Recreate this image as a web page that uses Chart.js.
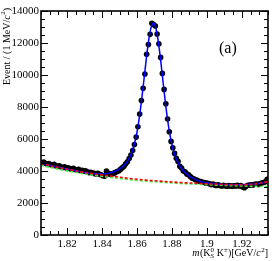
<!DOCTYPE html>
<html><head><meta charset="utf-8">
<script src="https://cdn.jsdelivr.net/npm/chart.js@4/dist/chart.umd.min.js"></script>
<style>html,body{margin:0;padding:0;background:#fff;}canvas{display:block;}</style>
</head><body>
<canvas id="c" width="274" height="261"></canvas>
<script>
// ---- data ----
const massBins = [
1.8055,1.8065,1.8075,1.8085,1.8095,1.8105,1.8115,1.8125,1.8135,1.8145,
1.8155,1.8165,1.8175,1.8185,1.8195,1.8205,1.8215,1.8225,1.8235,1.8245,
1.8255,1.8265,1.8275,1.8285,1.8295,1.8305,1.8315,1.8325,1.8335,1.8345,
1.8355,1.8365,1.8375,1.8385,1.8395,1.8405,1.8415,1.8425,1.8435,1.8445,
1.8455,1.8465,1.8475,1.8485,1.8495,1.8505,1.8515,1.8525,1.8535,1.8545,
1.8555,1.8565,1.8575,1.8585,1.8595,1.8605,1.8615,1.8625,1.8635,1.8645,
1.8655,1.8665,1.8675,1.8685,1.8695,1.8705,1.8715,1.8725,1.8735,1.8745,
1.8755,1.8765,1.8775,1.8785,1.8795,1.8805,1.8815,1.8825,1.8835,1.8845,
1.8855,1.8865,1.8875,1.8885,1.8895,1.8905,1.8915,1.8925,1.8935,1.8945,
1.8955,1.8965,1.8975,1.8985,1.8995,1.9005,1.9015,1.9025,1.9035,1.9045,
1.9055,1.9065,1.9075,1.9085,1.9095,1.9105,1.9115,1.9125,1.9135,1.9145,
1.9155,1.9165,1.9175,1.9185,1.9195,1.9205,1.9215,1.9225,1.9235,1.9245,
1.9255,1.9265,1.9275,1.9285,1.9295,1.9305,1.9315,1.9325,1.9335,1.9345];
const eventCounts = [
4520,4560,4480,4430,4470,4400,4380,4420,4330,4300,
4320,4250,4220,4260,4180,4200,4150,4120,4170,4090,
4060,4100,4020,4050,3980,4010,3950,3900,3920,3870,
3850,3810,3860,3790,3760,3700,3680,3990,3870,3800,
3820,3850,3900,3970,4000,4100,4200,4300,4450,4580,
4780,5000,5280,5650,6120,6770,7560,8400,9170,10060,
11300,11900,12540,13230,13150,13060,12560,11950,11100,10100,
9100,8200,7250,6450,5850,5450,5100,4800,4600,4300,
4180,4000,3950,3820,3760,3650,3560,3520,3450,3420,
3360,3340,3300,3280,3240,3230,3200,3150,3180,3120,
3100,3130,3090,3060,3100,3080,3050,3090,3070,3040,
3080,3060,3100,3070,3090,3000,2960,3050,3110,3120,
3140,3130,3170,3180,3160,3220,3250,3280,3330,3480];
const fitMass = [1.805,1.810,1.815,1.820,1.825,1.830,1.8344,1.8394,1.8434,1.8464,1.8494,1.8514,1.8534,1.8554,1.8574,1.8594,1.8604,1.8614,1.8624,1.8634,1.8644,1.8654,1.8664,1.8674,1.8684,1.8694,1.8704,1.8714,1.8724,1.8734,1.8744,1.8754,1.8764,1.8774,1.8784,1.8794,1.8814,1.8834,1.8854,1.8874,1.8894,1.8924,1.8954,1.8994,1.9054,1.910,1.915,1.920,1.925,1.930,1.935];
const fitTotal = [4480,4350,4230,4120,4010,3910,3846,3820,3852,3937,4091,4250,4458,4775,5285,6120,6701,7410,8247,9163,10138,11103,11962,12653,13098,13248,13082,12621,11914,11039,10056,9062,8129,7275,6549,5951,5080,4534,4174,3928,3731,3520,3378,3271,3190,3150,3140,3145,3165,3220,3330];
const bkgMass = [1.805,1.815,1.825,1.835,1.845,1.855,1.865,1.875,1.885,1.895,1.905,1.915,1.925,1.935];
const bkgTotal = [4470,4220,4010,3830,3690,3545,3430,3350,3280,3230,3180,3140,3160,3330];
const bkgSmooth = [4350,4110,3910,3740,3600,3470,3370,3290,3220,3170,3120,3080,3050,3020];
const xTicks = [1.82,1.84,1.86,1.88,1.90,1.92];
const xTickLabels = ['1.82','1.84','1.86','1.88','1.9','1.92'];
const yTicks = [0,2000,4000,6000,8000,10000,12000,14000];
const yTickLabels = ['0','2000','4000','6000','8000','10000','12000','14000'];
const X_MIN = 1.805, X_MAX = 1.935, X_MINOR = 0.005;
const Y_MIN = 0, Y_MAX = 14000, Y_MINOR = 500;

const pts = (xs, ys) => xs.map((x, i) => ({x: x, y: ys[i]}));
const SERIF = '"Liberation Serif","Times New Roman",serif';

function drawRich(ctx, segs, size) {
  let w = 0;
  const font = (s, it) => (it ? 'italic ' : '') + s + 'px ' + SERIF;
  const parts = [];
  for (const s of segs) {
    if (s.stack) {
      ctx.font = font(size * 0.7, false);
      const w1 = ctx.measureText(s.sup).width, w2 = ctx.measureText(s.sub).width;
      parts.push({s, x: w}); w += Math.max(w1, w2);
    } else {
      const sz = s.sup ? size * 0.7 : size;
      ctx.font = font(sz, s.it);
      parts.push({s, x: w}); w += ctx.measureText(s.t).width + (s.it ? 0.5 : 0);
    }
  }
  return {w, parts, render(x0, y0) {
    ctx.textBaseline = 'alphabetic'; ctx.textAlign = 'left'; ctx.fillStyle = '#000';
    for (const p of parts) {
      const s = p.s;
      if (s.stack) {
        ctx.font = font(size * 0.7, false);
        ctx.fillText(s.sup, x0 + p.x, y0 - size * 0.42);
        ctx.font = font(size * 0.7, true);
        ctx.fillText(s.sub, x0 + p.x, y0 + size * 0.22);
      } else if (s.sup) {
        ctx.font = font(size * 0.7, false);
        ctx.fillText(s.t, x0 + p.x, y0 - size * 0.42);
      } else {
        ctx.font = font(size, s.it);
        ctx.fillText(s.t, x0 + p.x, y0);
      }
    }
  }};
}

const decor = {
  id: 'decor',
  afterDraw(chart) {
    const {ctx, chartArea: a, scales: {x, y}} = chart;
    ctx.save();
    ctx.strokeStyle = '#000';
    ctx.lineWidth = 1;
    const nx = Math.round((X_MAX - X_MIN) / X_MINOR);
    for (let k = 0; k <= nx; k++) {
      const v = X_MIN + k * X_MINOR;
      const major = xTicks.some(t => Math.abs(t - v) < 1e-6);
      const L = major ? 7 : 4;
      const px = Math.round(x.getPixelForValue(v)) + 0.5;
      ctx.beginPath();
      ctx.moveTo(px, a.bottom); ctx.lineTo(px, a.bottom - L);
      ctx.moveTo(px, a.top); ctx.lineTo(px, a.top + L);
      ctx.stroke();
    }
    const ny = Math.round((Y_MAX - Y_MIN) / Y_MINOR);
    for (let k = 0; k <= ny; k++) {
      const v = Y_MIN + k * Y_MINOR;
      const major = yTicks.includes(v);
      const L = major ? 7 : 4;
      const py = Math.round(y.getPixelForValue(v)) + 0.5;
      ctx.beginPath();
      ctx.moveTo(a.left, py); ctx.lineTo(a.left + L, py);
      ctx.moveTo(a.right, py); ctx.lineTo(a.right - L, py);
      ctx.stroke();
    }
    ctx.lineWidth = 1.6;
    ctx.strokeRect(a.left, a.top, a.right - a.left, a.bottom - a.top);

    ctx.font = '16px ' + SERIF;
    ctx.fillStyle = '#000';
    ctx.textAlign = 'left'; ctx.textBaseline = 'alphabetic';
    ctx.fillText('(a)', 219, 53);

    const xt = drawRich(ctx, [
      {t: 'm', it: true}, {t: '(K'}, {stack: true, sup: '0', sub: 'S'}, {t: ' K'}, {t: '±', sup: true},
      {t: ')[GeV/'}, {t: 'c', it: true}, {t: '2', sup: true}, {t: ']'}
    ], 10);
    xt.render(a.right - xt.w, 256);

    ctx.save();
    ctx.translate(9.5, 85);
    ctx.rotate(-Math.PI / 2);
    const yt = drawRich(ctx, [
      {t: 'Event / (1 MeV/'}, {t: 'c', it: true}, {t: '2', sup: true}, {t: ')'}
    ], 10);
    yt.render(0, 0);
    ctx.restore();
    ctx.restore();
  }
};

new Chart(document.getElementById('c'), {
  type: 'scatter',
  data: {
    datasets: [
      {label: 'bkg', data: pts(bkgMass, bkgTotal), showLine: true, borderColor: '#ff0000', borderWidth: 1.6,
       borderDash: [3, 2], pointRadius: 0, cubicInterpolationMode: 'monotone', order: 0},
      {label: 'bkg2', data: pts(bkgMass, bkgSmooth), showLine: true, borderColor: '#44ee44', borderWidth: 1.6,
       borderDash: [3, 2], pointRadius: 0, cubicInterpolationMode: 'monotone', order: 1},
      {label: 'fit', data: pts(fitMass, fitTotal), showLine: true, borderColor: '#0000ff', borderWidth: 1.5,
       pointRadius: 0, cubicInterpolationMode: 'monotone', order: 2},
      {label: 'data', data: pts(massBins, eventCounts), showLine: false, pointRadius: 2.8,
       pointBackgroundColor: '#000', pointBorderColor: '#000', pointBorderWidth: 0, order: 3}
    ]
  },
  options: {
    responsive: false, animation: false, devicePixelRatio: 1,
    layout: {padding: {top: 11, right: 6, left: 0, bottom: 0}},
    plugins: {legend: {display: false}, tooltip: {enabled: false}},
    scales: {
      x: {type: 'linear', min: X_MIN, max: X_MAX,
        grid: {display: false, drawTicks: false}, border: {display: false},
        afterBuildTicks: s => { s.ticks = xTicks.map(v => ({value: v})); },
        afterFit: s => { s.height = 26; },
        ticks: {color: '#000', padding: 3, font: {family: SERIF, size: 11},
          callback: (v) => xTickLabels[xTicks.findIndex(t => Math.abs(t - v) < 1e-6)]}},
      y: {type: 'linear', min: Y_MIN, max: Y_MAX,
        grid: {display: false, drawTicks: false}, border: {display: false},
        afterBuildTicks: s => { s.ticks = yTicks.map(v => ({value: v})); },
        afterFit: s => { s.width = 41; },
        ticks: {color: '#000', padding: 2, font: {family: SERIF, size: 11},
          callback: (v) => yTickLabels[yTicks.indexOf(v)]}}
    }
  },
  plugins: [decor]
});
</script>
</body></html>
